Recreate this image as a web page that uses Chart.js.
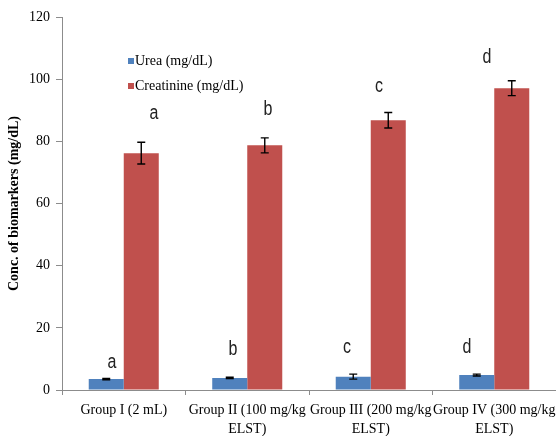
<!DOCTYPE html>
<html>
<head>
<meta charset="utf-8">
<script src="https://cdn.jsdelivr.net/npm/chart.js@4.4.1/dist/chart.umd.min.js"></script>
<style>
  html,body{margin:0;padding:0;background:#fff;}
  #wrap{width:556px;height:436px;position:relative;}
</style>
</head>
<body>
<div id="wrap"><canvas id="c"></canvas></div>
<script>
/* ---- data ---- */
const groups = [
  ['Group I (2 mL)'],
  ['Group II (100 mg/kg', 'ELST)'],
  ['Group III (200 mg/kg', 'ELST)'],
  ['Group IV (300 mg/kg', 'ELST)']
];
const urea      = [3.5, 3.9, 4.3, 4.8];
const ureaErr   = [0.2, 0.2, 0.8, 0.3];
const creat     = [76.2, 78.7, 86.8, 97.1];
const creatErr  = [3.5, 2.4, 2.5, 2.4];
const sigLetters = ['a', 'b', 'c', 'd'];
const yTicks = [0, 20, 40, 60, 80, 100, 120];

// where the significance letters sit (category index, value)
const ureaLetterAt  = [[-0.095, 9.0], [0.885, 12.9], [1.808, 13.8], [2.779, 13.8]];
const creatLetterAt = [[0.245, 89.1], [1.168, 90.1], [2.067, 97.5], [2.941, 107.1]];

const errs = [ureaErr, creatErr];

// error bars drawn on top of bars
const errorBars = {
  id: 'errorBars',
  afterDatasetsDraw(chart){
    const ctx = chart.ctx, y = chart.scales.y;
    ctx.save();
    ctx.strokeStyle = '#000'; ctx.lineWidth = 1.4;
    chart.data.datasets.forEach((ds, di) => {
      chart.getDatasetMeta(di).data.forEach((bar, i) => {
        const v = ds.data[i], e = errs[di][i];
        const yt = y.getPixelForValue(v + e), yb = y.getPixelForValue(v - e);
        ctx.beginPath();
        ctx.moveTo(bar.x, yt); ctx.lineTo(bar.x, yb);
        ctx.moveTo(bar.x - 4, yt); ctx.lineTo(bar.x + 4, yt);
        ctx.moveTo(bar.x - 4, yb); ctx.lineTo(bar.x + 4, yb);
        ctx.stroke();
      });
    });
    ctx.restore();
  }
};

// letters + in-plot legend
const extras = {
  id: 'extras',
  afterDraw(chart){
    const ctx = chart.ctx, x = chart.scales.x, y = chart.scales.y, ca = chart.chartArea;
    ctx.save();
    ctx.fillStyle = '#222';
    ctx.textAlign = 'center'; ctx.textBaseline = 'middle';
    const put = (pos, t) => {
      ctx.save();
      ctx.translate(x.getPixelForValue(pos[0]), y.getPixelForValue(pos[1]));
      ctx.scale(0.8, 1);
      ctx.font = '20px "Liberation Sans", Arial, sans-serif';
      ctx.fillText(t, 0, 0);
      ctx.restore();
    };
    sigLetters.forEach((t, i) => { put(ureaLetterAt[i], t); put(creatLetterAt[i], t); });

    // legend
    ctx.textAlign = 'left';
    ctx.font = '14px "Liberation Serif", "Times New Roman", serif';
    const lx = ca.left + 66, ly = [61, 86];
    chart.data.datasets.forEach((ds, i) => {
      ctx.fillStyle = ds.backgroundColor;
      ctx.fillRect(lx, ly[i] - 3, 6, 6);
      ctx.fillStyle = '#000';
      ctx.fillText(ds.label, lx + 7, ly[i]);
    });
    ctx.restore();
  }
};

new Chart(document.getElementById('c'), {
  type: 'bar',
  data: {
    labels: groups,
    datasets: [
      {label: 'Urea (mg/dL)', data: urea, backgroundColor: '#4F81BD'},
      {label: 'Creatinine (mg/dL)', data: creat, backgroundColor: '#C0504D'}
    ]
  },
  options: {
    responsive: true, maintainAspectRatio: false, animation: false,
    layout: {padding: {top: 17, right: 0, left: 0, bottom: 0}},
    categoryPercentage: 0.567, barPercentage: 1,
    plugins: {legend: {display: false}, tooltip: {enabled: false}},
    scales: {
      x: {
        grid: {display: true, drawOnChartArea: false, offset: true, color: '#8c8c8c', tickLength: 5},
        border: {color: '#8c8c8c'},
        ticks: {color: '#000', maxRotation: 0, autoSkip: false, padding: 6,
                font: {family: '"Liberation Serif", "Times New Roman", serif', size: 14, lineHeight: 1.35}},
        afterFit(s){ s.height = 46; s.paddingLeft = 0; s.paddingRight = 0; }
      },
      y: {
        min: 0, max: 120,
        afterBuildTicks(s){ s.ticks = yTicks.map(v => ({value: v})); },
        grid: {display: true, drawOnChartArea: false, color: '#8c8c8c', tickLength: 6},
        border: {color: '#8c8c8c'},
        ticks: {color: '#000', padding: 6,
                font: {family: '"Liberation Serif", "Times New Roman", serif', size: 14}},
        title: {display: true, text: 'Conc. of biomarkers (mg/dL)', color: '#000', padding: {top: 6, bottom: 0},
                font: {family: '"Liberation Serif", "Times New Roman", serif', size: 14, weight: 'bold'}},
        afterFit(s){ s.width = 62; s.paddingTop = 0; s.paddingBottom = 0; }
      }
    }
  },
  plugins: [errorBars, extras]
});
</script>
</body>
</html>
